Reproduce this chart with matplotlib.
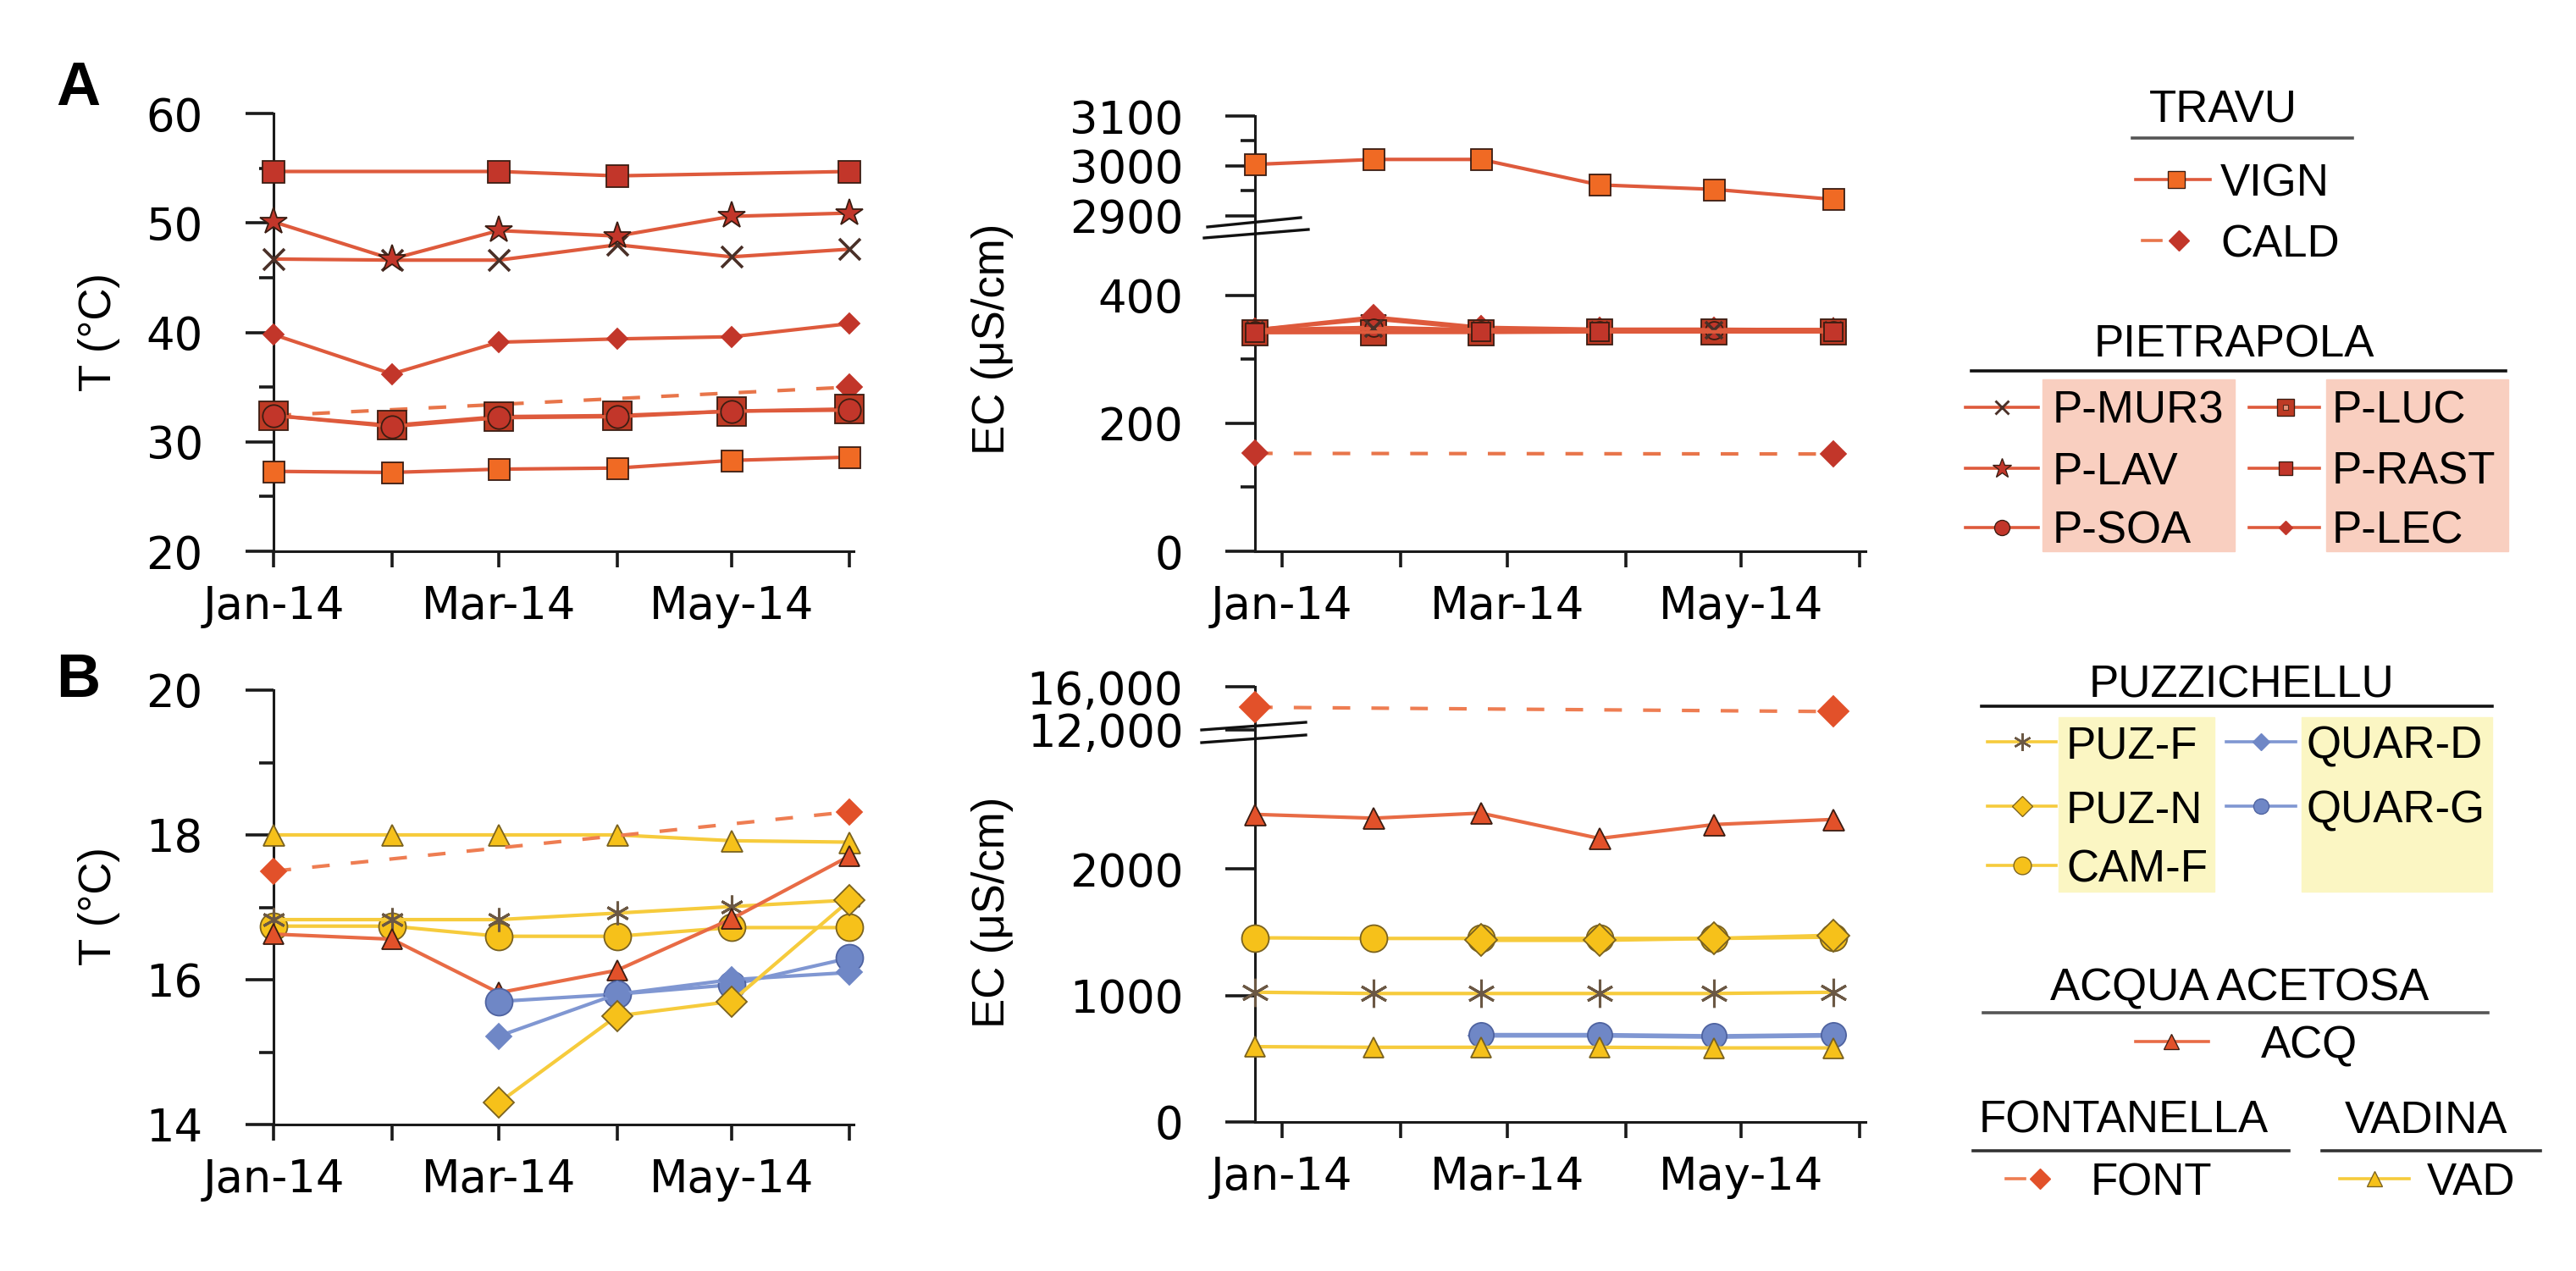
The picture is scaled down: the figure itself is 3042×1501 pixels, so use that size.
import matplotlib
matplotlib.use('Agg')
import matplotlib.pyplot as plt
from matplotlib.patches import Rectangle
from datetime import datetime, timedelta

plt.rcParams['font.family'] = ['DejaVu Sans']
LAB = ['Liberation Sans', 'DejaVu Sans']

# sampling months (2014)
months = [1, 2, 3, 4, 5, 6]
d = [datetime(2014, m, 1) for m in months]
d_rast = [d[0], d[2], d[3], d[5]]
d_two = [d[0], d[5]]
d_late = d[2:]
x_labels = ['Jan-14', '', 'Mar-14', '', 'May-14', '']

# ---- A : temperature (°C)
tA_vign = [27.3, 27.2, 27.5, 27.6, 28.3, 28.6]
tA_cald = [32.4, 35.0]
tA_mur3 = [46.7, 46.6, 46.6, 48.0, 46.9, 47.6]
tA_lav = [50.1, 46.7, 49.3, 48.8, 50.6, 50.9]
tA_soa = [32.4, 31.4, 32.2, 32.3, 32.8, 32.9]
tA_luc = [32.4, 31.5, 32.3, 32.4, 32.8, 33.0]
tA_rast = [54.7, 54.7, 54.3, 54.7]
tA_lec = [39.8, 36.2, 39.1, 39.4, 39.6, 40.8]

# ---- A : EC (µS/cm)
ecA_vign = [3003, 3013, 3013, 2962, 2953, 2933]
ecA_cald = [153, 152]
ecA_mur3 = [345, 348, 346, 346, 346, 346]
ecA_lav = [346, 363, 348, 346, 346, 346]
ecA_soa = [346, 350, 346, 346, 346, 346]
ecA_luc = [342, 342, 342, 343, 343, 343]
ecA_rast = [342, 343, 343, 343]
ecA_lec = [346, 366, 350, 347, 347, 346]

# ---- B : temperature (°C)
tB_vad = [18.0, 18.0, 18.0, 18.0, 17.92, 17.9]
tB_font = [17.5, 18.32]
tB_acq = [16.63, 16.56, 15.82, 16.13, 16.84, 17.71]
tB_puzf = [16.83, 16.83, 16.83, 16.92, 17.01, 17.1]
tB_puzn = [14.3, 15.5, 15.7, 17.1]
tB_camf = [16.74, 16.74, 16.6, 16.6, 16.72, 16.72]
tB_quard = [15.22, 15.8, 16.0, 16.1]
tB_quarg = [15.7, 15.8, 15.93, 16.3]

# ---- B : EC (µS/cm)
ecB_font = [14100, 13700]
ecB_acq = [2430, 2400, 2440, 2240, 2350, 2390]
ecB_camf = [1455, 1450, 1450, 1450, 1450, 1460]
ecB_puzn = [1435, 1435, 1450, 1475]
ecB_puzf = [1025, 1015, 1015, 1015, 1015, 1025]
ecB_quard = [680, 680, 670, 680]
ecB_quarg = [690, 690, 680, 690]
ecB_vad = [595, 590, 590, 590, 585, 585]

# colours
RED_LINE = '#DE5A3C'
RED_MK = '#C2362A'
ORANGE_MK = '#F06A24'
EDGE = '#3b1d12'
YEL_LINE = '#F6CB3C'
YEL_MK = '#F6C11A'
BLUE_LINE = '#8097D2'
BLUE_MK = '#6F87C6'
ACQ_MK = '#E2512A'
ACQ_LINE = '#E86B45'
FONT_LINE = '#EE7D52'
PINK_BOX = '#F9CFC0'
YEL_BOX = '#FBF6C3'

STYLE = {
    'VIGN': dict(color=RED_LINE, marker='s', mfc=ORANGE_MK, mec=EDGE),
    'CALD': dict(color='#E8754A', marker='D', mfc=RED_MK, mec=RED_MK, dashed=True),
    'P-MUR3': dict(color=RED_LINE, marker='x', mfc='none', mec='#4a3028', mew=2.6),
    'P-LAV': dict(color=RED_LINE, marker='*', mfc=RED_MK, mec=EDGE),
    'P-SOA': dict(color=RED_LINE, marker='o', mfc=RED_MK, mec=EDGE),
    'P-LUC': dict(color=RED_LINE, marker='s', mfc='#BE3A24', mec=EDGE),
    'P-RAST': dict(color=RED_LINE, marker='s', mfc=RED_MK, mec=EDGE),
    'P-LEC': dict(color=RED_LINE, marker='D', mfc=RED_MK, mec=RED_MK),
    'PUZ-F': dict(color=YEL_LINE, marker=(6, 2, 0), mfc='none', mec='#6b5844', mew=2.2),
    'PUZ-N': dict(color=YEL_LINE, marker='D', mfc=YEL_MK, mec='#7a6220'),
    'CAM-F': dict(color=YEL_LINE, marker='o', mfc=YEL_MK, mec='#7a6220'),
    'QUAR-D': dict(color=BLUE_LINE, marker='D', mfc=BLUE_MK, mec=BLUE_MK),
    'QUAR-G': dict(color=BLUE_LINE, marker='o', mfc=BLUE_MK, mec='#4f63a0'),
    'ACQ': dict(color=ACQ_LINE, marker='^', mfc=ACQ_MK, mec=EDGE),
    'FONT': dict(color=FONT_LINE, marker='D', mfc=ACQ_MK, mec=ACQ_MK, dashed=True),
    'VAD': dict(color=YEL_LINE, marker='^', mfc=YEL_MK, mec='#7a6220'),
}


def draw(ax, x, y, name, ms, lw=3, z=3):
    st = STYLE[name]
    ls = (0, (5, 6)) if st.get('dashed') else '-'
    ax.plot(x, y, linestyle=ls, color=st['color'], lw=lw, marker=st['marker'],
            ms=ms, mfc=st['mfc'], mec=st['mec'], mew=st.get('mew', 1.3), zorder=z,
            clip_on=False)


W, H = 3042, 1501
fig = plt.figure(figsize=(W / 100, H / 100), dpi=100)


def px_axes(x0, y0, x1, y1):
    return fig.add_axes([x0 / W, 1 - y1 / H, (x1 - x0) / W, (y1 - y0) / H])


def style_axes(ax, ylen):
    for s in ['top', 'right']:
        ax.spines[s].set_visible(False)
    for s in ['left', 'bottom']:
        ax.spines[s].set_linewidth(2.2)
        ax.spines[s].set_color('#1a1a1a')
    ax.set_facecolor('none')
    ax.tick_params(axis='y', which='major', direction='out', length=ylen, width=2.6,
                   pad=36, labelsize=38, color='#1a1a1a')
    ax.tick_params(axis='y', which='minor', direction='out', length=ylen / 2, width=2.6,
                   color='#1a1a1a')
    ax.tick_params(axis='x', which='major', direction='out', length=14, width=2.6,
                   pad=14, labelsize=38, color='#1a1a1a')


# temperature panels
axAt = px_axes(323, 134, 1008, 651)
axBt = px_axes(323, 815, 1008, 1328)
for ax in (axAt, axBt):
    style_axes(ax, 24)
    ax.set_xlim(d[0], datetime(2014, 6, 2))
    ax.set_xticks(d)
    ax.set_xticklabels(x_labels)

axAt.set_ylim(20, 60)
axAt.set_yticks([20, 30, 40, 50, 60])
axAt.set_yticks([25, 35, 45, 55], minor=True)
axBt.set_ylim(14, 20)
axBt.set_yticks([14, 16, 18, 20])
axBt.set_yticks([15, 17, 19], minor=True)

draw(axAt, d, tA_vign, 'VIGN', 18)
draw(axAt, d_two, tA_cald, 'CALD', 15)
draw(axAt, d, tA_luc, 'P-LUC', 25)
draw(axAt, d, tA_soa, 'P-SOA', 19)
draw(axAt, d, tA_lec, 'P-LEC', 12)
draw(axAt, d, tA_mur3, 'P-MUR3', 18)
draw(axAt, d, tA_lav, 'P-LAV', 24)
draw(axAt, d_rast, tA_rast, 'P-RAST', 19)

draw(axBt, d, tB_vad, 'VAD', 18)
draw(axBt, d_two, tB_font, 'FONT', 15)
draw(axBt, d, tB_camf, 'CAM-F', 23)
draw(axBt, d, tB_puzf, 'PUZ-F', 20)
draw(axBt, d, tB_acq, 'ACQ', 17)
draw(axBt, d_late, tB_quarg, 'QUAR-G', 23)
draw(axBt, d_late, tB_quard, 'QUAR-D', 15)
draw(axBt, d_late, tB_puzn, 'PUZ-N', 18)

# EC panels (broken axes)
ec_ticks = [datetime(2014, m, 8) for m in months]
ec_xlim = (d[0], datetime(2014, 6, 9, 12))
axAu = px_axes(1482, 137, 2203, 259)
axAl = px_axes(1482, 277, 2203, 651)
axBu = px_axes(1482, 811, 2203, 862)
axBl = px_axes(1482, 877, 2203, 1325)
for ax in (axAu, axAl, axBu, axBl):
    style_axes(ax, 25)
    ax.set_xlim(*ec_xlim)
for ax in (axAu, axBu):
    ax.spines['bottom'].set_visible(False)
    ax.set_xticks([])
for ax in (axAl, axBl):
    ax.set_xticks(ec_ticks)
    ax.set_xticklabels(x_labels)

axAu.set_ylim(2893, 3100)
axAu.set_yticks([2900, 3000, 3100])
axAu.set_yticks([2950, 3050], minor=True)
axAl.set_ylim(0, 495)
axAl.set_yticks([0, 200, 400])
axAl.set_yticks([100, 300], minor=True)
axBu.set_ylim(12000, 16000)
axBu.set_yticks([12000, 16000])
axBu.set_yticklabels(['12,000', '16,000'])
axBl.set_ylim(0, 2997)
axBl.set_yticks([0, 1000, 2000])

draw(axAu, d, ecA_vign, 'VIGN', 18)
draw(axAl, d_two, ecA_cald, 'CALD', 15)
draw(axAl, d, ecA_lav, 'P-LAV', 22)
draw(axAl, d, ecA_lec, 'P-LEC', 14)
draw(axAl, d, ecA_luc, 'P-LUC', 22)
draw(axAl, d, ecA_soa, 'P-SOA', 15)
draw(axAl, d, ecA_mur3, 'P-MUR3', 14)
draw(axAl, d_rast, ecA_rast, 'P-RAST', 16)

draw(axBu, d_two, ecB_font, 'FONT', 18)
draw(axBl, d, ecB_acq, 'ACQ', 18)
draw(axBl, d, ecB_camf, 'CAM-F', 23)
draw(axBl, d_late, ecB_puzn, 'PUZ-N', 19)
draw(axBl, d, ecB_puzf, 'PUZ-F', 24)
draw(axBl, d_late, ecB_quard, 'QUAR-D', 15)
draw(axBl, d_late, ecB_quarg, 'QUAR-G', 21)
draw(axBl, d, ecB_vad, 'VAD', 17)

# overlay in pixel coordinates: labels, breaks, legend
ov = fig.add_axes([0, 0, 1, 1])
ov.set_xlim(0, W)
ov.set_ylim(H, 0)
ov.axis('off')

ov.text(92, 105, 'A', fontsize=52, fontweight='bold', family=LAB, ha='center', va='center')
ov.text(92, 804, 'B', fontsize=52, fontweight='bold', family=LAB, ha='center', va='center')
ov.text(117, 392, 'T (°C)', fontsize=38, family=LAB, rotation=90, ha='center', va='center')
ov.text(117, 1070, 'T (°C)', fontsize=38, family=LAB, rotation=90, ha='center', va='center')
ov.text(1172, 400, 'EC (μS/cm)', fontsize=38, family=LAB, rotation=90, ha='center', va='center')
ov.text(1172, 1077, 'EC (μS/cm)', fontsize=38, family=LAB, rotation=90, ha='center', va='center')

# axis breaks
for y_top, y_bot in [(259, 277), (862, 877)]:
    ov.plot([1482, 1482], [y_top, y_bot], color='#1a1a1a', lw=2.2)
ov.plot([1426, 1536], [268, 257], color='#111', lw=2.4)
ov.plot([1422, 1545], [281, 271], color='#111', lw=2.4)
ov.plot([1419, 1542], [862, 853], color='#111', lw=2.4)
ov.plot([1419, 1542], [877, 868], color='#111', lw=2.4)

# legend
ov.add_patch(Rectangle((2412, 448), 227, 203, color=PINK_BOX, zorder=0))
ov.add_patch(Rectangle((2747, 448), 215, 203, color=PINK_BOX, zorder=0))
ov.add_patch(Rectangle((2431, 847), 184, 206, color=YEL_BOX, zorder=0))
ov.add_patch(Rectangle((2718, 847), 225, 206, color=YEL_BOX, zorder=0))

titles = [('TRAVU', 2625, 124, 2518, 2778, 163, '#555555'),
          ('PIETRAPOLA', 2638, 402, 2328, 2959, 438, '#111111'),
          ('PUZZICHELLU', 2647, 804, 2340, 2943, 834, '#111111'),
          ('ACQUA ACETOSA', 2645, 1163, 2342, 2938, 1196, '#555555'),
          ('FONTANELLA', 2508, 1319, 2330, 2703, 1359, '#333333'),
          ('VADINA', 2865, 1319, 2742, 3000, 1359, '#333333')]
for txt, tx, ty, lx0, lx1, ly, lc in titles:
    ov.text(tx, ty + 19, txt, fontsize=38, family=LAB, ha='center', va='baseline')
    ov.plot([lx0, lx1], [ly, ly], color=lc, lw=2.6)

# name, row y, line x0, line x1, marker x, text x, marker size
entries = [('VIGN', 212, 2522, 2610, 2570, 2622, 14),
           ('CALD', 284, 2530, 2552, 2573, 2622, 12),
           ('P-MUR3', 481, 2321, 2407, 2364, 2424, 12),
           ('P-LAV', 553, 2321, 2407, 2364, 2424, 17),
           ('P-SOA', 623, 2321, 2407, 2364, 2424, 13),
           ('P-LUC', 481, 2656, 2739, 2699, 2754, 15),
           ('P-RAST', 553, 2656, 2739, 2699, 2754, 12),
           ('P-LEC', 623, 2656, 2739, 2699, 2754, 8),
           ('PUZ-F', 876, 2347, 2428, 2388, 2440, 15),
           ('PUZ-N', 952, 2347, 2428, 2388, 2440, 12),
           ('CAM-F', 1022, 2347, 2428, 2388, 2440, 15),
           ('QUAR-D', 876, 2629, 2711, 2670, 2723, 10),
           ('QUAR-G', 952, 2629, 2711, 2670, 2723, 13),
           ('ACQ', 1230, 2522, 2608, 2564, 2670, 13),
           ('FONT', 1392, 2369, 2391, 2409, 2469, 12),
           ('VAD', 1392, 2763, 2845, 2804, 2866, 13)]
for name, y, lx0, lx1, mx, tx, ms in entries:
    st = STYLE[name]
    ov.plot([lx0, lx1], [y, y], color=st['color'], lw=2.6, zorder=2)
    ov.plot([mx], [y], marker=st['marker'], ms=ms, mfc=st['mfc'], mec=st['mec'],
            mew=st.get('mew', 1.2) * 0.8, zorder=3, ls='none')
    if name == 'P-LUC':
        ov.plot([mx], [y], marker='s', ms=5, mfc='#E89078', mec='#5a2a1a', mew=0.8, zorder=4)
    ov.text(tx, y + 19, name, fontsize=38, family=LAB, ha='left', va='baseline')

fig.savefig('out.png', dpi=100, facecolor='white')
